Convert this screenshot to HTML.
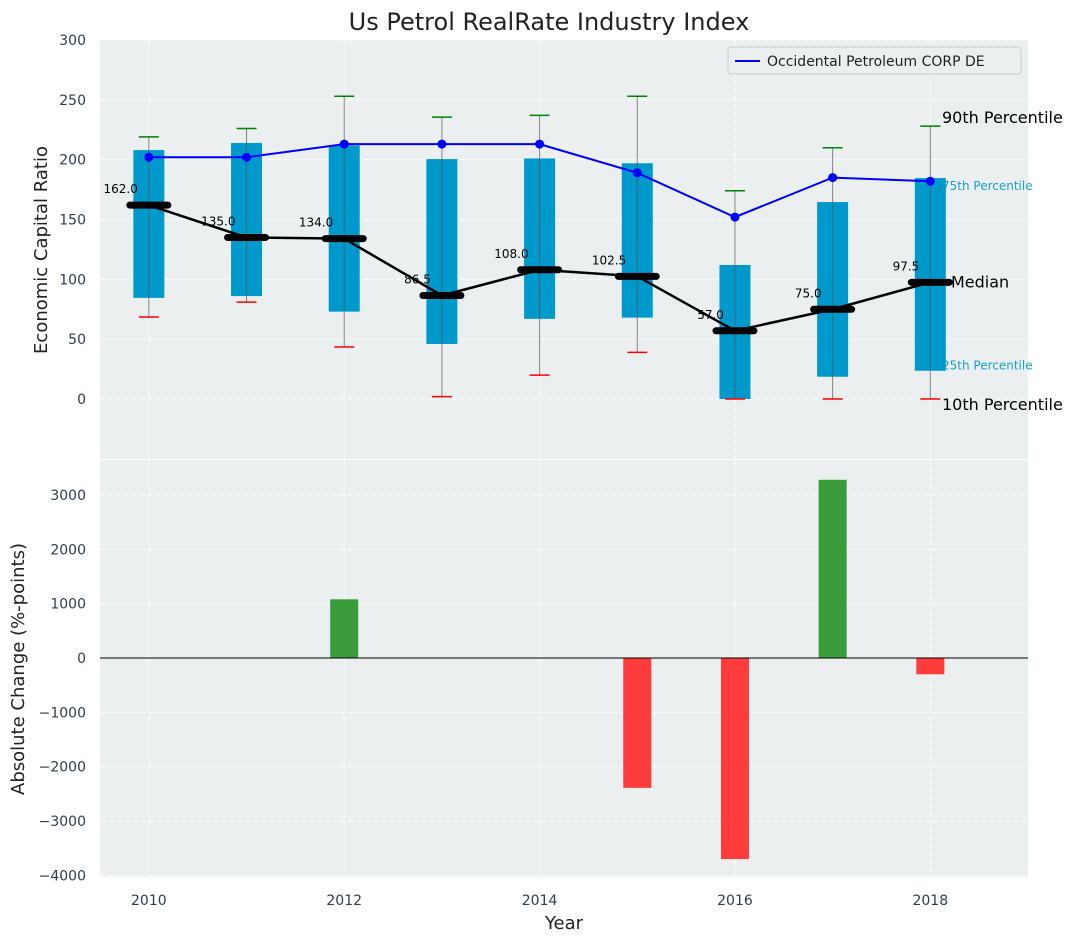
<!DOCTYPE html>
<html><head><meta charset="utf-8"><style>
body{margin:0;background:#fff;}
svg text{font-family:"DejaVu Sans","Liberation Sans",sans-serif;}
</style></head><body>
<svg id="chart" width="1077" height="942" xmlns="http://www.w3.org/2000/svg">
<rect x="0" y="0" width="1077" height="942" fill="#fff"/>
<text x="549" y="30" font-size="24" text-anchor="middle" fill="#222">Us Petrol RealRate Industry Index</text>
<g id="topg"></g><g id="botg"></g>
</svg>
<script>
const years=[2010,2011,2012,2013,2014,2015,2016,2017,2018];
const p10=[68.5,81,43.5,2,20,39,0,0,0];
const p25=[84.5,86,73,46,67,68,0,18.6,23.6];
const medians=[162,135,134,86.5,108,102.5,57,75,97.5];
const p75=[208,214,212,200.5,201,197,112,164.6,184.6];
const p90=[219,226,253,235.5,237,253,174,210,228];
const company=[202,202,213,213,213,189,152,185,182];
const changes=[0,0,1080,0,0,-2390,-3700,3280,-300];
const topTicks=[0,50,100,150,200,250,300];
const botTicks=[-4000,-3000,-2000,-1000,0,1000,2000,3000];
const xTicks=[2010,2012,2014,2016,2018];

const NS='http://www.w3.org/2000/svg';
const X0=100,X1=1028;
const x=v=>X0+(v-2009.5)/(2019-2009.5)*(X1-X0);
const yT=v=>399-(v)*(359/300);
const yB=v=>658-v*(163/3000);
function mk(p,tag,a,txt){const e=document.createElementNS(NS,tag);for(const k in a)e.setAttribute(k,a[k]);if(txt!==undefined)e.textContent=txt;p.appendChild(e);return e;}
const gTop=document.getElementById('topg'),gBot=document.getElementById('botg');

let e=mk(gTop,'rect',{x:X0,y:40,width:X1-X0,height:419,fill:'#ebeff0'});


e=mk(gBot,'rect',{x:X0,y:460,width:X1-X0,height:417,fill:'#ebeff0'});



xTicks.forEach(t=>{
 mk(gTop,'line',{x1:x(t),x2:x(t),y1:40,y2:459,stroke:'#fff','stroke-dasharray':'5,3'});
 mk(gBot,'line',{x1:x(t),x2:x(t),y1:460,y2:877,stroke:'#fff','stroke-dasharray':'5,3'});
 e=mk(gBot,'text',{x:x(t),y:905,'font-size':14,'text-anchor':'middle',fill:'#2e3d50'},t);
 
 
});
topTicks.forEach(t=>{
 mk(gTop,'line',{x1:X0,x2:X1,y1:yT(t),y2:yT(t),stroke:'#fff','stroke-dasharray':'5,3'});
 e=mk(gTop,'text',{x:86,y:yT(t)+5,'font-size':14,'text-anchor':'end',fill:'#2e3d50'},t);
 
 
});
botTicks.forEach(t=>{
 mk(gBot,'line',{x1:X0,x2:X1,y1:yB(t),y2:yB(t),stroke:'#fff','stroke-dasharray':'5,3'});
 e=mk(gBot,'text',{x:86,y:yB(t)+5,'font-size':14,'text-anchor':'end',fill:'#2e3d50'},t===0?'0':String(t).replace('-','\u2212'));
 
 
});

const lbls=[[235,'90th Percentile',16,'#000',942],[179,'75th Percentile',12,'#1a9fd0',942],[97.5,'Median',16,'#000',951],[29,'25th Percentile',12,'#1a9fd0',942],[-5,'10th Percentile',16,'#000',942]];
lbls.forEach(l=>{e=mk(gTop,'text',{x:l[4],y:yT(l[0])+5,'font-size':l[2],fill:l[3]},l[1]);
 
 });

years.forEach((yr,i)=>{
 const cx=x(yr),bw=31;
 e=mk(gTop,'rect',{x:cx-bw/2,y:yT(p75[i]),width:bw,height:yT(p25[i])-yT(p75[i]),fill:'#0099cc'});
 
 
 e=mk(gTop,'line',{x1:cx,x2:cx,y1:yT(p90[i]),y2:yT(p10[i]),stroke:'#555','stroke-width':1,opacity:0.7});
 
 
 e=mk(gTop,'line',{x1:cx-10,x2:cx+10,y1:yT(p90[i]),y2:yT(p90[i]),stroke:'green','stroke-width':1.5});
 
 
 e=mk(gTop,'line',{x1:cx-10,x2:cx+10,y1:yT(p10[i]),y2:yT(p10[i]),stroke:'red','stroke-width':1.5});
 
 
});
e=mk(gTop,'polyline',{points:years.map((yr,i)=>x(yr)+','+yT(medians[i])).join(' '),fill:'none',stroke:'#000','stroke-width':2.5});


years.forEach((yr,i)=>{
 const cx=x(yr),cy=yT(medians[i]);
 e=mk(gTop,'line',{x1:cx-19,x2:cx+19,y1:cy,y2:cy,stroke:'#000','stroke-width':7,'stroke-linecap':'round'});
 
 
 e=mk(gTop,'text',{x:cx-11,y:cy-12,'font-size':12,'text-anchor':'end',fill:'#000'},medians[i].toFixed(1));
 
 
});
e=mk(gTop,'polyline',{points:years.map((yr,i)=>x(yr)+','+yT(company[i])).join(' '),fill:'none',stroke:'#0000ff','stroke-width':2});


years.forEach((yr,i)=>{e=mk(gTop,'circle',{cx:x(yr),cy:yT(company[i]),r:4.5,fill:'#0000ff'});
 
 });

const lg=mk(gTop,'g',{});


mk(lg,'rect',{x:728,y:47,width:293,height:27,rx:3,fill:'#ebeff0',stroke:'#ccc'});
mk(lg,'line',{x1:735,x2:760,y1:61,y2:61,stroke:'#0000ff','stroke-width':2});
e=mk(lg,'text',{x:767,y:66,'font-size':14,fill:'#222'},'Occidental Petroleum CORP DE');



years.forEach((yr,i)=>{
 const v=changes[i];if(v===0)return;
 const y0=yB(Math.max(v,0)),h=Math.abs(yB(v)-yB(0));
 e=mk(gBot,'rect',{x:x(yr)-14,y:y0,width:28,height:h,fill:v>0?'#3a9c3a':'#ff3b3b'});
 
 
});
mk(gBot,'line',{x1:X0,x2:X1,y1:yB(0),y2:yB(0),stroke:'#000','stroke-width':1});

e=mk(gTop,'text',{x:47,y:250,'font-size':18,'text-anchor':'middle',fill:'#222',transform:'rotate(-90 47 250)'},'Economic Capital Ratio');


e=mk(gBot,'text',{x:24,y:669,'font-size':18,'text-anchor':'middle',fill:'#222',transform:'rotate(-90 24 669)'},'Absolute Change (%-points)');


e=mk(gBot,'text',{x:564,y:929,'font-size':18,'text-anchor':'middle',fill:'#222'},'Year');


</script>
</body></html>
